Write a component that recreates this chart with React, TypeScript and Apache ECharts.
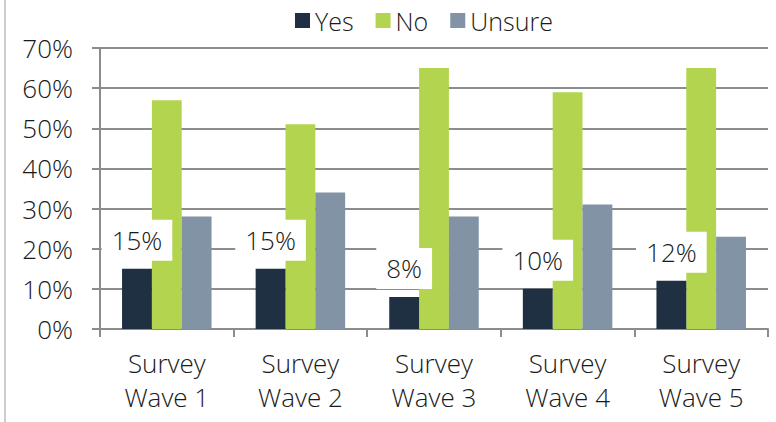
import React, { useEffect, useRef } from "react";
import * as echarts from "echarts";

const categories = ["Survey\nWave 1", "Survey\nWave 2", "Survey\nWave 3", "Survey\nWave 4", "Survey\nWave 5"];
const yesValues = [15, 15, 8, 10, 12];
const noValues = [57, 51, 65, 59, 65];
const unsureValues = [28, 34, 28, 31, 23];
const seriesNames = ["Yes", "No", "Unsure"];
const colors = ["#1e3042", "#b2d44e", "#8193a4"];

const FONT = "Open Sans";
const W = 300;

export default function App() {
  const ref = useRef<HTMLDivElement>(null);
  useEffect(() => {
    if (!ref.current) return;
    const chart = echarts.init(ref.current, null, { renderer: "svg" });
    chart.setOption({
      animation: false,
      textStyle: { fontFamily: FONT, fontWeight: W },
      legend: {
        top: 8,
        left: 295,
        padding: 0,
        itemWidth: 15,
        itemHeight: 15,
        itemGap: 22,
        icon: "rect",
        data: seriesNames,
        textStyle: { fontSize: 25, color: "#1a1a1a", fontFamily: FONT, fontWeight: W },
      },
      grid: { left: 100, right: 8, top: 48, bottom: 93, containLabel: false },
      graphic: [
        {
          type: "line",
          shape: { x1: 5, y1: 0, x2: 5, y2: 422 },
          style: { stroke: "#bdbdbd", lineWidth: 1.5 },
        },
      ],
      xAxis: {
        type: "category",
        data: categories,
        axisLine: { show: true, lineStyle: { color: "#8c8c8c", width: 2 } },
        axisTick: { show: true, length: 8, alignWithLabel: false, lineStyle: { color: "#8c8c8c", width: 2 } },
        axisLabel: {
          fontSize: 26,
          lineHeight: 34,
          margin: 17,
          color: "#1a1a1a",
          fontFamily: FONT,
          fontWeight: W,
          interval: 0,
        },
      },
      yAxis: {
        type: "value",
        min: 0,
        max: 70,
        interval: 10,
        axisLine: { show: true, lineStyle: { color: "#8c8c8c", width: 2 } },
        axisTick: { show: true, length: 8, inside: false, lineStyle: { color: "#8c8c8c", width: 2 } },
        splitLine: { show: true, lineStyle: { color: "#8c8c8c", width: 2 } },
        axisLabel: {
          formatter: "{value}%",
          fontSize: 26,
          margin: 27,
          color: "#1a1a1a",
          fontFamily: FONT,
          fontWeight: W,
        },
      },
      series: [
        {
          name: seriesNames[0],
          type: "bar",
          data: yesValues,
          barGap: "0%",
          barCategoryGap: "33%",
          itemStyle: { color: colors[0] },
          label: {
            show: true,
            position: "top",
            distance: 8,
            formatter: "{c}%",
            fontSize: 26,
            lineHeight: 29,
            color: "#1a1a1a",
            fontFamily: FONT,
            fontWeight: W,
            backgroundColor: "#ffffff",
            padding: [6, 10, 6, 10],
          },
          z: 3,
        },
        {
          name: seriesNames[1],
          type: "bar",
          data: noValues,
          barGap: "0%",
          barCategoryGap: "33%",
          itemStyle: { color: colors[1] },
          z: 2,
        },
        {
          name: seriesNames[2],
          type: "bar",
          data: unsureValues,
          barGap: "0%",
          barCategoryGap: "33%",
          itemStyle: { color: colors[2] },
          z: 2,
        },
      ],
    });
    return () => chart.dispose();
  }, []);
  return <div ref={ref} style={{ width: 776, height: 422, position: "absolute", left: 0, top: 0 }} />;
}
